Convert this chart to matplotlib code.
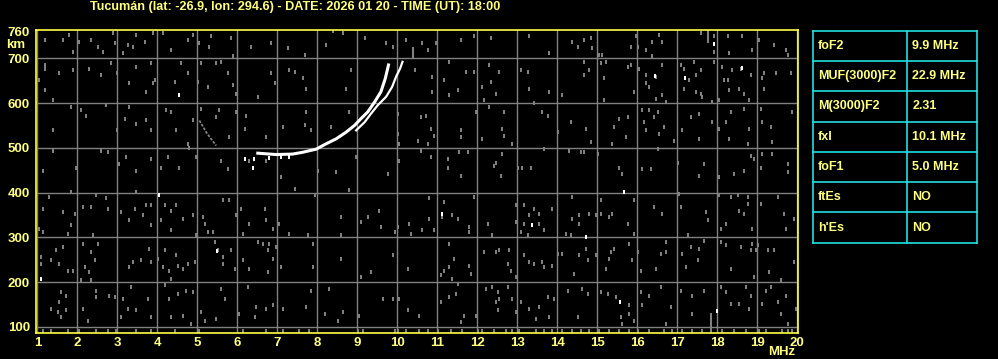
import matplotlib
matplotlib.use("Agg")
import matplotlib.pyplot as plt

# --- data ---
title = "Tucumán (lat: -26.9, lon: 294.6) - DATE: 2026 01 20 - TIME (UT): 18:00"

y_ticks = [100, 200, 300, 400, 500, 600, 700, 760]
x_ticks = list(range(1, 21))

# ordinary trace (F2)
o_freq = [6.51, 6.97, 7.38, 7.63, 7.97, 8.22, 8.47, 8.72, 8.93, 9.09, 9.26, 9.43, 9.59, 9.70, 9.78]
o_height = [488, 485, 486, 490, 497, 509, 520, 535, 550, 565, 580, 602, 625, 655, 685]

# extraordinary trace
x_freq = [8.97, 9.18, 9.34, 9.51, 9.72, 9.87, 9.97, 10.07, 10.13]
x_height = [539, 557, 576, 595, 614, 636, 659, 677, 692]

# faint gray arc near 5 MHz
arc_freq = [5.05, 5.09, 5.22, 5.34, 5.47]
arc_height = [561, 555, 535, 520, 505]

# scattered noise (freq MHz, height km)
noise_upper_left = [
    (1.18, 741), (1.63, 741), (1.78, 752), (1.88, 715), (2.03, 737), (2.34, 741), (2.51, 726),
    (2.63, 715), (2.88, 756), (2.93, 734), (3.15, 711), (3.26, 730), (3.38, 726), (3.47, 752),
    (3.68, 737), (3.88, 756), (4.13, 756), (4.34, 719), (4.76, 741), (4.88, 752), (5.05, 734),
    (5.30, 726), (5.34, 749), (5.84, 745), (5.88, 704), (6.34, 726), (6.84, 734), (7.26, 722),
    (7.68, 707), (8.22, 730), (8.38, 760), (8.63, 756), (9.18, 745), (9.72, 734), (9.88, 726),
    (10.22, 741),
    (1.18, 685), (1.18, 677), (1.03, 651), (1.55, 666), (1.19, 629), (1.88, 674), (2.30, 677),
    (2.59, 662), (2.84, 689), (3.00, 666), (3.30, 644), (3.47, 681), (3.72, 625), (3.84, 689),
    (3.88, 644), (3.93, 651), (4.43, 647), (4.59, 689), (4.76, 666), (5.01, 647), (5.09, 689),
    (5.26, 636), (5.47, 689), (5.59, 692), (5.76, 666), (5.88, 640), (5.97, 621), (6.51, 614),
    (6.84, 666), (6.93, 644), (7.30, 674), (7.43, 670), (7.63, 655), (7.72, 632), (8.72, 632),
    (8.84, 674), (10.43, 674),
    (1.38, 606), (1.38, 539), (1.84, 591), (2.09, 584), (2.22, 572), (2.72, 595), (3.00, 539),
    (3.18, 565), (3.30, 591), (3.47, 554), (3.72, 561), (3.84, 539), (4.22, 584), (4.34, 580),
    (4.47, 539), (4.76, 509), (4.88, 561), (5.09, 587), (5.47, 569), (5.55, 584), (5.80, 524),
    (5.97, 580), (6.22, 572), (6.18, 542), (6.72, 524), (7.13, 546), (7.72, 580), (7.68, 550),
    (7.84, 539), (8.34, 546), (8.80, 580), (10.01, 576), (10.01, 531), (10.05, 509),
    (1.13, 449), (1.38, 494), (1.97, 456), (2.59, 494), (2.76, 490), (3.05, 464), (3.22, 479),
    (3.47, 449), (3.84, 475), (4.09, 456), (4.26, 479), (4.55, 456), (4.80, 499), (4.97, 479),
    (5.59, 471), (5.76, 452), (6.30, 471), (6.72, 471), (7.09, 434), (8.01, 449), (8.47, 445),
    (8.97, 479), (9.76, 441), (10.05, 471),
]

noise_upper_right = [
    (10.63, 734), (10.76, 719), (10.97, 734), (11.59, 741), (11.93, 749), (12.34, 745),
    (13.30, 749), (13.80, 711), (14.38, 737), (14.51, 726), (14.68, 741), (14.84, 745),
    (14.88, 722), (15.05, 707), (15.13, 707), (15.84, 726), (15.97, 749), (16.01, 726),
    (16.22, 719), (16.38, 737), (16.38, 704), (16.55, 752), (16.63, 737), (17.59, 756),
    (17.93, 749), (17.93, 715), (18.26, 749), (18.30, 711), (18.63, 749), (18.88, 719),
    (19.05, 741), (19.43, 730), (19.72, 719), (19.76, 707),
    (10.88, 659), (10.88, 625), (11.18, 651), (11.30, 692), (11.30, 617), (11.51, 629),
    (11.72, 670), (11.93, 670), (12.13, 636), (12.18, 606), (12.30, 685), (12.34, 647),
    (12.47, 621), (12.55, 670), (13.09, 674), (13.26, 670), (13.30, 632), (13.80, 625),
    (14.13, 617), (14.68, 692), (14.80, 674), (14.68, 662), (15.09, 689), (15.18, 655),
    (15.22, 692), (15.18, 606), (15.76, 681), (15.84, 685), (15.93, 625), (16.05, 677),
    (16.22, 662), (16.22, 644), (16.30, 636), (16.47, 659), (16.63, 685), (16.63, 617),
    (16.47, 610), (16.72, 602), (17.09, 685), (17.18, 677), (17.18, 632), (17.30, 651),
    (17.43, 692), (17.47, 662), (17.47, 625), (17.59, 674), (17.59, 621), (17.63, 614),
    (17.88, 602), (17.93, 692), (18.05, 606), (18.13, 681), (18.18, 651), (18.26, 651),
    (18.30, 629), (18.38, 674), (18.55, 632), (18.59, 677), (18.68, 621), (18.80, 606),
    (18.84, 662), (19.13, 655), (19.18, 666), (19.18, 632), (19.47, 666), (19.84, 666),
    (10.59, 569), (10.72, 572), (10.84, 542), (10.93, 527), (10.51, 516), (10.76, 509),
    (11.59, 539), (11.59, 524), (11.97, 580), (12.13, 520), (12.30, 591), (12.68, 580),
    (12.63, 542), (12.68, 527), (12.88, 509), (13.43, 599), (13.63, 580), (13.76, 572),
    (14.01, 535), (14.34, 557), (14.72, 542), (14.84, 512), (15.38, 509), (15.43, 546),
    (15.55, 565), (15.76, 569), (15.72, 524), (16.13, 584), (16.18, 557), (16.22, 539),
    (16.30, 584), (16.43, 569), (16.51, 580), (16.55, 531), (16.68, 546), (16.93, 516),
    (17.13, 539), (17.34, 569), (17.55, 576), (17.55, 520), (17.88, 557), (18.05, 542),
    (18.22, 557), (18.34, 580), (18.30, 520), (18.68, 587), (18.76, 509), (18.80, 542),
    (19.09, 587), (19.13, 557), (19.34, 546), (19.38, 512), (19.88, 580),
    (10.59, 494), (10.84, 479), (11.26, 475), (11.26, 456), (11.55, 490), (11.59, 437),
    (11.76, 490), (12.43, 460), (12.47, 467), (12.63, 486), (12.59, 437), (13.01, 456),
    (13.13, 456), (13.34, 456), (13.68, 497), (14.30, 494), (14.59, 490), (14.68, 490),
    (15.01, 486), (15.55, 456), (15.63, 441), (16.13, 452), (16.34, 452), (16.51, 497),
    (17.01, 467), (17.55, 437), (17.68, 464), (18.05, 434), (18.43, 441), (18.68, 449),
    (18.84, 482), (18.93, 475), (19.09, 456), (19.13, 486), (19.38, 486), (19.76, 464),
    (19.76, 445),
]

noise_lower_left = [
    (1.30, 390), (1.13, 364), (1.63, 357), (1.84, 402), (1.93, 353), (2.13, 368), (2.34, 368),
    (2.47, 394), (1.84, 327), (1.05, 319), (1.13, 312), (1.76, 308), (2.38, 305), (2.72, 387),
    (2.76, 364), (3.09, 357), (3.30, 338), (3.43, 364), (3.47, 401), (3.63, 349), (3.72, 372),
    (3.84, 327), (3.84, 372), (4.09, 338), (4.18, 372), (4.34, 360), (4.47, 372), (4.63, 342),
    (4.88, 349), (4.34, 316), (4.97, 305), (5.13, 346), (5.18, 331), (5.26, 312), (5.38, 312),
    (5.63, 383), (5.80, 383), (5.97, 349), (6.09, 364), (6.13, 308), (6.30, 331), (6.68, 364),
    (6.72, 338), (6.88, 319), (7.05, 331), (7.30, 308), (7.43, 409), (7.76, 305), (7.93, 394),
    (8.59, 346), (8.59, 305), (8.80, 405), (9.09, 334), (9.26, 346), (9.55, 360), (9.59, 323),
    (9.93, 312), (10.01, 323), (10.30, 331), (10.34, 308),
    (1.09, 256), (1.09, 241), (1.34, 249), (1.47, 271), (1.55, 241), (1.63, 278), (1.76, 226),
    (1.88, 226), (2.13, 286), (2.18, 234), (2.34, 267), (2.30, 222), (2.43, 249), (2.51, 286),
    (2.34, 204), (2.09, 204), (3.30, 234), (3.38, 245), (3.59, 249), (3.80, 275), (3.84, 245),
    (4.01, 252), (4.18, 271), (4.13, 234), (4.30, 226), (4.34, 208), (4.47, 260), (4.51, 237),
    (4.63, 230), (4.76, 241), (4.93, 245), (5.43, 290), (5.51, 271), (5.63, 256), (5.84, 271),
    (5.63, 241), (5.93, 230), (6.13, 249), (6.30, 230), (6.51, 290), (6.63, 286), (6.76, 271),
    (6.80, 286), (6.76, 222), (6.88, 252), (6.97, 278), (7.09, 234), (7.88, 286), (7.88, 234),
    (8.59, 252), (9.09, 211), (9.34, 222), (9.88, 260), (10.26, 230),
    (1.59, 178), (1.72, 170), (1.55, 155), (1.34, 140), (1.51, 133), (1.59, 122), (1.72, 137),
    (2.13, 140), (2.26, 114), (2.47, 181), (2.47, 166), (2.80, 170), (2.93, 166), (3.13, 163),
    (3.34, 189), (3.26, 140), (3.47, 137), (3.09, 122), (3.76, 163), (3.84, 122), (4.18, 193),
    (4.30, 163), (4.51, 174), (4.72, 181), (4.88, 178), (4.34, 122), (4.63, 125), (4.84, 107),
    (5.09, 133), (5.18, 114), (5.59, 185), (5.68, 163), (5.47, 118), (6.05, 129), (6.26, 189),
    (6.43, 122), (6.47, 144), (6.72, 140), (6.88, 148), (7.13, 140), (7.72, 144), (7.84, 181),
    (8.18, 129), (8.30, 185), (8.51, 114), (8.63, 133), (9.05, 125), (9.63, 163), (9.88, 163),
    (10.05, 163), (10.26, 137),
]

noise_lower_right = [
    (10.80, 387), (11.18, 379), (11.13, 346), (10.80, 342), (11.38, 349), (11.51, 342),
    (10.63, 317), (10.93, 316), (11.80, 323), (11.80, 312), (11.93, 390), (12.26, 331),
    (12.38, 305), (12.97, 372), (12.97, 334), (13.18, 372), (13.30, 349), (13.43, 364),
    (13.55, 353), (13.55, 331), (13.68, 316), (13.88, 364), (13.18, 331), (13.09, 312),
    (13.26, 305), (14.38, 390), (14.22, 308), (14.34, 305), (14.38, 342), (14.55, 349),
    (14.55, 331), (14.80, 353), (14.97, 349), (15.09, 383), (15.09, 353), (15.30, 346),
    (15.38, 353), (15.76, 331), (15.93, 383), (15.93, 308), (16.43, 368), (16.63, 353),
    (17.09, 368), (17.05, 398), (17.26, 305), (17.72, 357), (17.76, 338), (18.05, 394),
    (18.09, 319), (18.22, 331), (18.34, 390), (18.51, 394), (18.55, 360), (18.68, 353),
    (18.76, 390), (18.76, 375), (18.88, 319), (19.09, 375), (19.51, 390), (19.68, 353),
    (19.72, 319), (19.93, 342),
    (11.30, 286), (11.30, 234), (11.43, 252), (11.18, 226), (11.09, 215), (11.38, 208),
    (11.80, 237), (11.84, 219), (12.18, 267), (12.47, 267), (12.55, 271), (12.80, 271),
    (12.76, 241), (12.84, 226), (12.97, 211), (13.18, 260), (13.30, 245), (13.43, 241),
    (13.63, 245), (13.68, 234), (13.88, 237), (14.01, 263), (14.13, 263), (14.43, 219),
    (14.55, 260), (14.72, 275), (14.76, 249), (14.97, 260), (15.34, 267), (15.30, 252),
    (15.43, 275), (15.22, 230), (15.80, 286), (15.88, 249), (16.01, 267), (16.09, 226),
    (16.47, 230), (16.59, 263), (16.72, 290), (16.72, 267), (17.13, 263), (17.22, 234),
    (17.34, 278), (17.51, 249), (17.55, 275), (17.68, 293), (18.09, 290), (18.22, 282),
    (18.34, 230), (18.59, 278), (18.84, 271), (18.88, 286), (18.97, 271), (18.93, 211),
    (19.01, 282), (19.26, 271), (19.30, 222), (19.43, 271), (19.59, 204), (19.93, 245),
    (10.55, 125), (11.09, 155), (11.30, 166), (11.51, 196), (11.47, 174), (11.68, 125),
    (11.59, 111), (11.97, 125), (12.22, 185), (12.38, 189), (12.51, 178), (12.55, 163),
    (12.47, 155), (12.51, 137), (12.76, 189), (12.88, 163), (12.97, 133), (13.09, 155),
    (13.30, 140), (13.55, 144), (13.47, 118), (13.76, 166), (13.80, 122), (13.93, 163),
    (14.26, 181), (14.51, 122), (14.63, 185), (14.76, 174), (15.09, 178), (15.26, 174),
    (15.47, 166), (15.59, 122), (15.63, 107), (15.80, 148), (15.80, 129), (15.93, 114),
    (16.09, 178), (16.13, 148), (16.30, 170), (16.59, 189), (16.72, 107), (16.84, 144),
    (17.09, 181), (17.38, 170), (17.38, 129), (17.68, 181), (18.09, 189), (18.22, 178),
    (18.34, 152), (18.55, 152), (18.72, 189), (18.84, 170), (18.80, 140), (19.13, 152),
    (19.22, 181), (19.34, 189), (19.51, 155), (19.59, 129), (19.72, 170), (19.76, 107),
    (19.97, 140),
]

# speckle along the bottom of the frame (~92 km)
floor_freq = [
    1.13, 1.34, 1.76, 2.05, 2.47, 2.76, 2.97, 3.47, 3.84, 4.43, 5.05, 6.13, 6.72, 7.13, 7.55,
    7.80, 9.01, 9.13, 9.93, 10.01, 10.22, 10.55, 10.76, 11.01, 11.34, 11.63, 12.01, 12.13,
    12.43, 12.72, 12.88, 13.05, 13.47, 13.68, 13.88, 14.13, 14.38, 14.59, 14.80, 15.05, 15.30,
    15.55, 15.80, 16.01, 16.30, 16.68, 16.88, 17.13, 17.38, 17.63, 18.13, 18.43, 18.72, 19.05,
    19.22, 19.63, 19.76, 19.88,
]
floor_height = 92

# bright single echoes
white_dots = [
    (4.04, 394), (5.48, 269), (1.08, 207), (11.13, 353), (13.38, 327), (14.73, 301),
    (15.68, 401), (15.58, 155), (17.99, 135), (16.44, 660), (17.19, 655), (18.63, 679),
    (17.93, 732), (4.55, 617), (6.18, 476), (6.38, 455), (6.42, 475), (6.80, 478),
    (7.10, 479), (7.30, 479),
]

# vertical streaks (freq, h_start, h_end)
streaks = [(17.84, 88, 130), (17.78, 737, 760), (10.38, 700, 722)]

# ionospheric parameters table
param_names = ["foF2", "MUF(3000)F2", "M(3000)F2", "fxI", "foF1", "ftEs", "h'Es"]
param_values = ["9.9 MHz", "22.9 MHz", "2.31", "10.1 MHz", "5.0 MHz", "NO", "NO"]

YELLOW_TXT = "#ffff80"
YELLOW_AX = "#ffff40"
GRAY = "#808080"
CYAN = "#20e0e0"
FONT = "Liberation Sans"
SPECK = [(-1, -1.5), (1, -1.5), (1, 1.5), (-1, 1.5), (-1, -1.5)]

W, H = 998, 359
fig = plt.figure(figsize=(W / 100, H / 100), dpi=100, facecolor="black")

# main ionogram panel
ax = fig.add_axes([35.5 / W, 1 - 333 / H, (798.3 - 35.5) / W, (333 - 30) / H])
ax.set_facecolor("black")
ax.set_xlim(0.95, 20.03)
ax.set_ylim(86.6, 763)
ax.set_xticks(x_ticks)
ax.set_yticks(y_ticks)
for t in ax.get_xticklabels() + ax.get_yticklabels():
    t.set_fontfamily(FONT)
    t.set_fontweight("bold")
ax.tick_params(length=0, colors=YELLOW_TXT, labelsize=9.5)
ax.tick_params(axis="x", pad=3)
ax.tick_params(axis="y", pad=4)
for s in ax.spines.values():
    s.set_color(YELLOW_AX)
    s.set_linewidth(1.2)

for xv in x_ticks:
    ax.axvline(xv, color=GRAY, lw=1.0, zorder=1)
for yv in y_ticks[:-1]:
    ax.axhline(yv, color=GRAY, lw=1.0, zorder=1)

all_noise = noise_upper_left + noise_upper_right + noise_lower_left + noise_lower_right
ax.plot([p[0] for p in all_noise], [p[1] for p in all_noise], ls="none",
        marker=SPECK, ms=2.6, mew=0, color=GRAY, zorder=2)
ax.plot(floor_freq, [floor_height] * len(floor_freq), ls="none",
        marker=SPECK, ms=3.2, mew=0, color=GRAY, zorder=2)
for f, h0, h1 in streaks:
    ax.plot([f, f], [h0, h1], color=GRAY, lw=1.5, zorder=2)
ax.plot(arc_freq, arc_height, color=GRAY, lw=1.3, ls=(0, (1.5, 0.8)), zorder=2)

ax.plot([p[0] for p in white_dots], [p[1] for p in white_dots], ls="none",
        marker=SPECK, ms=2.6, mew=0, color="white", zorder=3)
ax.plot(o_freq, o_height, color="white", lw=2.2, zorder=4)
ax.plot(x_freq, x_height, color="white", lw=1.6, zorder=4)

fig.text(90 / W, 1 - 7 / H, title, color=YELLOW_TXT, fontsize=9.1, fontweight="bold",
         family=FONT, ha="left", va="center")
fig.text(6 / W, 1 - 45 / H, "km", color=YELLOW_TXT, fontsize=9.5, fontweight="bold",
         family=FONT, ha="left", va="center")
fig.text(768 / W, 1 - 352 / H, "MHz", color=YELLOW_TXT, fontsize=9.5, fontweight="bold",
         family=FONT, ha="left", va="center")

# parameter table
tx0, tx1, ty0, ty1 = 812.7, 977.3, 30.7, 242.7
tab = fig.add_axes([tx0 / W, 1 - ty1 / H, (tx1 - tx0) / W, (ty1 - ty0) / H])
tab.set_facecolor("black")
tab.set_xlim(0, 1)
tab.set_ylim(len(param_names), 0)
tab.axis("off")
split = (907.3 - tx0) / (tx1 - tx0)
for i in range(len(param_names) + 1):
    tab.plot([0, 1], [i, i], color=CYAN, lw=1.2, clip_on=False)
for xv in [0, split, 1]:
    tab.plot([xv, xv], [0, len(param_names)], color=CYAN, lw=1.2, clip_on=False)
for i, (name, val) in enumerate(zip(param_names, param_values)):
    tab.text(0.03, i + 0.5, name, color=YELLOW_TXT, fontsize=9, fontweight="bold",
             family=FONT, ha="left", va="center")
    tab.text(split + 0.03, i + 0.5, val, color=YELLOW_TXT, fontsize=9, fontweight="bold",
             family=FONT, ha="left", va="center")

fig.savefig("out.png", dpi=100, facecolor="black")
